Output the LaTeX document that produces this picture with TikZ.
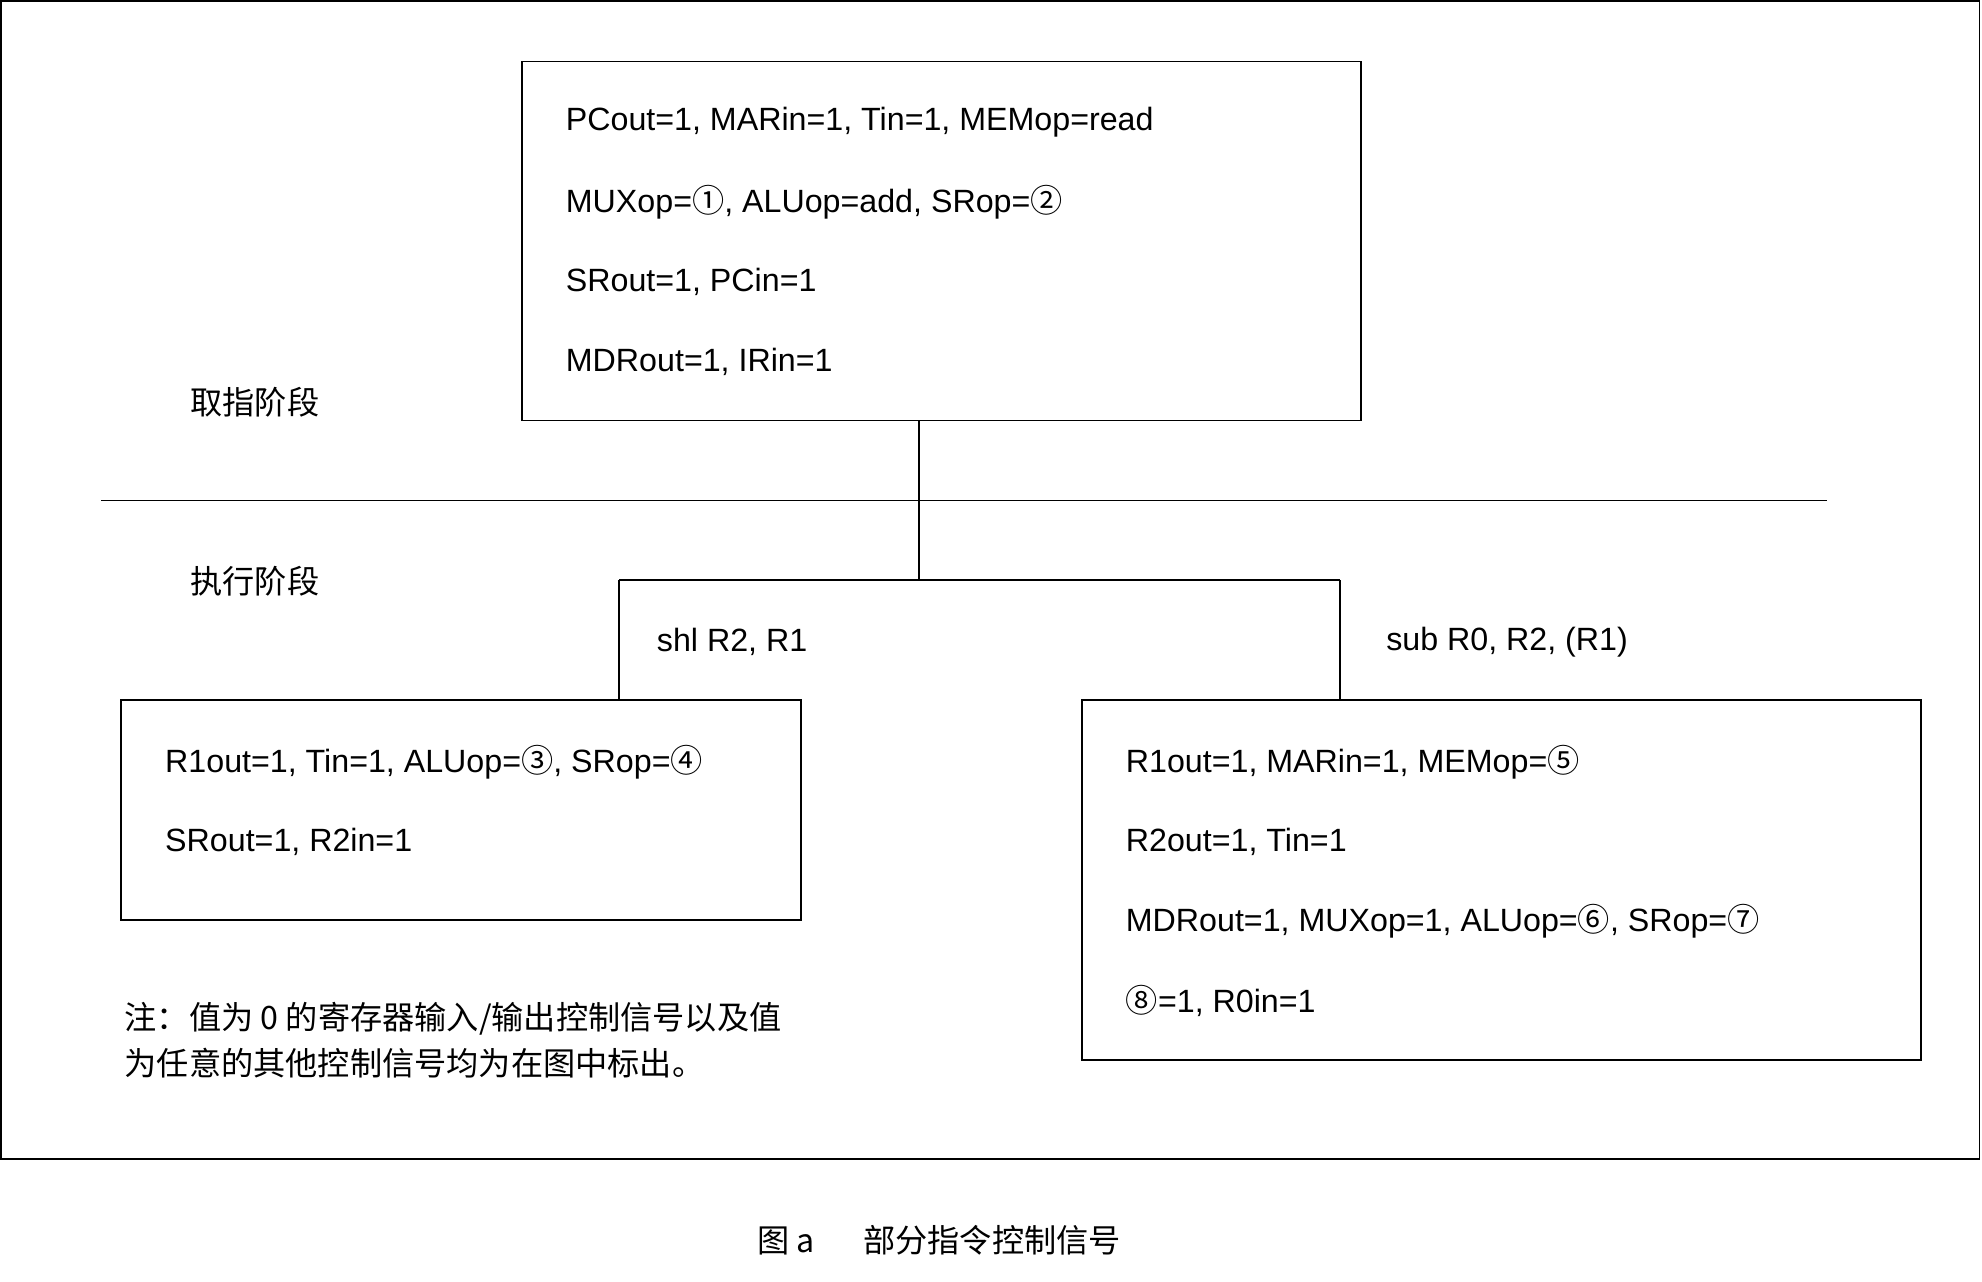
\documentclass[tikz,border=0pt]{standalone}
\usepackage{fontspec}
\setmainfont{Liberation Sans}
\newfontfamily\cjk{Noto Sans CJK SC}
\usetikzlibrary{positioning}
\tikzset{
  sig/.style={anchor=west, inner sep=0pt, font=\fontsize{14.5}{17}\selectfont},
  note/.style={anchor=west, inner sep=0pt, font=\cjk\fontsize{14.5}{17}\selectfont},
  stage/.style={draw, line width=0.8pt},
}
\newcommand{\cn}[1]{{\cjk #1}}
\begin{document}
\begin{tikzpicture}[x=0.02cm, y=-0.02cm, line width=0.8pt]
    \useasboundingbox (0,0) rectangle (1568,1014);
    % frame
    \draw (1,1) rectangle (1566,917);
    % fetch stage
    \node[stage, minimum width=664*0.02cm, minimum height=284*0.02cm, anchor=north west] (F) at (412,48) {};
    \foreach \txt [count=\ii from 0] in {{PCout=1, MARin=1, Tin=1, MEMop=read},
        {MUXop=\cn{①}, ALUop=add, SRop=\cn{②}},
        {SRout=1, PCin=1},
        {MDRout=1, IRin=1}}{
        \node[sig] (F_\ii) at (447,97+63*\ii) {\txt};
    }
    % execute stage, shl
    \node[stage, minimum width=538*0.02cm, minimum height=174*0.02cm, anchor=north west] (S) at (95,553) {};
    \node[sig] (S_0) at (130,603) {R1out=1, Tin=1, ALUop=\cn{③}, SRop=\cn{④}};
    \node[sig] (S_1) at (130,666) {SRout=1, R2in=1};
    % execute stage, sub
    \node[stage, minimum width=664*0.02cm, minimum height=285*0.02cm, anchor=north west] (U) at (855,553) {};
    \foreach \txt [count=\ii from 0] in {{R1out=1, MARin=1, MEMop=\cn{⑤}},
        {R2out=1, Tin=1},
        {MDRout=1, MUXop=1, ALUop=\cn{⑥}, SRop=\cn{⑦}},
        {\cn{⑧}=1, R0in=1}}{
        \node[sig] (U_\ii) at (890,603+63*\ii) {\txt};
    }
    % divider and branches
    \coordinate (D_l) at (80,396);
    \coordinate (D_r) at (1445,396);
    \draw (D_l) -- (D_r);
    \coordinate (B) at (727,459);
    \coordinate (B_l) at (490,459);
    \coordinate (B_r) at (1060,459);
    \draw (F.south -| B) -- (B);
    \draw (B_l) -- (B_r);
    \draw (B_l) -- (B_l |- S.north);
    \draw (B_r) -- (B_r |- U.north);
    \node[sig] (L_s) at (519,508) {shl R2, R1};
    \node[sig] (L_u) at (1096,508) {sub R0, R2, (R1)};
    % stage labels
    \node[note] (P_f) at (150,318) {取指阶段};
    \node[note] (P_e) at (150,460) {执行阶段};
    % note and caption
    \node[note] (N_0) at (98,806) {注：值为 0 的寄存器输入/输出控制信号以及值};
    \node[note] (N_1) at (98,841) {为任意的其他控制信号均为在图中标出。};
    \node[note, anchor=center] (C) at (743,981) {图 a\hspace{1.5em}部分指令控制信号};
\end{tikzpicture}
\end{document}
